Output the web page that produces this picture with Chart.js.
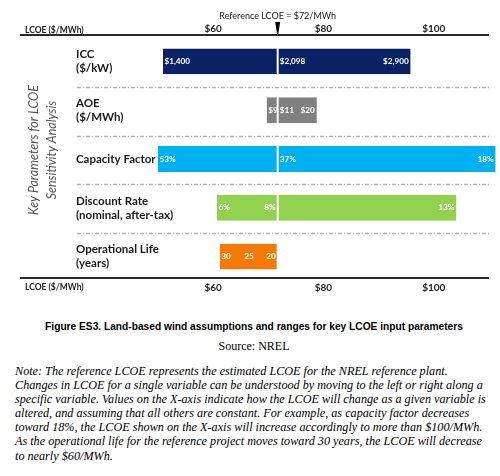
<!DOCTYPE html>
<html>
<head>
<meta charset="utf-8">
<script src="https://cdn.jsdelivr.net/npm/chart.js@4.4.1/dist/chart.umd.min.js"></script>
<style>
  body { margin: 0; background: #fff; width: 500px; height: 476px; overflow: hidden; }
  #wrap { position: relative; width: 500px; height: 300px; }
  .cap { position: absolute; left: 0; top: 321px; width: 508px; text-align: center;
         font: bold 10.2px "Liberation Sans", Arial, sans-serif; color: #000; }
  .src { position: absolute; left: 0; top: 339px; width: 508px; text-align: center;
         font: 12px "Liberation Serif", "Times New Roman", serif; color: #000; }
  .note { position: absolute; left: 15px; top: 364px; white-space: nowrap;
          font: italic 12.2px/14.1px "Liberation Serif", "Times New Roman", serif; color: #000; }
</style>
</head>
<body>
<div id="wrap"><canvas id="c"></canvas></div>
<div class="cap">Figure ES3. Land-based wind assumptions and ranges for key LCOE input parameters</div>
<div class="src">Source: NREL</div>
<div class="note">Note: The reference LCOE represents the estimated LCOE for the NREL reference plant.<br>Changes in LCOE for a single variable can be understood by moving to the left or right along a<br>specific variable. Values on the X-axis indicate how the LCOE will change as a given variable is<br>altered, and assuming that all others are constant. For example, as capacity factor decreases<br>toward 18%, the LCOE shown on the X-axis will increase accordingly to more than $100/MWh.<br>As the operational life for the reference project moves toward 30 years, the LCOE will decrease<br>to nearly $60/MWh.</div>

<script>
// key parameters (rows), LCOE range in $/MWh
const params = [['ICC', '($/kW)'], ['AOE', '($/MWh)'], ['Capacity Factor'], ['Discount Rate', '(nominal, after-tax)'], ['Operational Life', '(years)']];
const refLCOE = 71.7;
const lowLCOE = [50.9, 69.7, 50.0, 60.7, 61.2];
const highLCOE = [95.8, 78.8, 111.2, 104.1, null];
const barColors = ['#0a2163', '#808080', '#00b0f0', '#92d050', '#f47906'];
const tickValues = [60, 80, 100];

// parameter values written in the bars
const lowText = ['$1,400', '$9', '53%', '6%', '30'];
const refText = ['$2,098', '$11', '37%', '8%', '20'];
const refSide = ['right', 'right', 'right', 'left', 'left'];
const highText = ['$2,900', '$20', '18%', '13%', null];
const midText = [null, null, null, null, '25'];
const midLCOE = [null, null, null, null, 66.5];

const FONT = 'Lato, "Liberation Sans", sans-serif';

const overlay = {
    id: 'overlay',
    beforeDatasetsDraw(chart) {
        const ctx = chart.ctx;
        const y = chart.scales.y;
        const area = chart.chartArea;
        ctx.save();
        // separators between parameters
        ctx.strokeStyle = '#b4b4b4';
        ctx.lineWidth = 1.3;
        ctx.setLineDash([4, 2, 1, 2]);
        for (let i = 0; i < params.length - 1; i++) {
            const yy = Math.round((y.getPixelForValue(i) + y.getPixelForValue(i + 1)) / 2) + 1.5;
            ctx.beginPath();
            ctx.moveTo(77, yy);
            ctx.lineTo(area.right, yy);
            ctx.stroke();
        }
        // LCOE axis lines, top and bottom
        ctx.setLineDash([]);
        ctx.strokeStyle = '#2a2a2a';
        ctx.lineWidth = 2;
        [35, 278].forEach(ly => {
            ctx.beginPath();
            ctx.moveTo(area.left, ly);
            ctx.lineTo(area.right, ly);
            ctx.stroke();
        });
        ctx.restore();
    },
    afterDraw(chart) {
        const ctx = chart.ctx;
        const x = chart.scales.x;
        const y = chart.scales.y;
        const refX = x.getPixelForValue(refLCOE);
        ctx.save();

        // reference marker + caption
        ctx.fillStyle = '#1a1a1a';
        ctx.font = '9px ' + FONT;
        ctx.textAlign = 'center';
        ctx.textBaseline = 'middle';
        ctx.fillText('Reference LCOE = $72/MWh', refX, 16);
        ctx.fillStyle = '#000';
        ctx.beginPath();
        ctx.moveTo(refX - 2.5, 22);
        ctx.lineTo(refX + 2.5, 22);
        ctx.lineTo(refX + 0.6, 34);
        ctx.lineTo(refX - 0.6, 34);
        ctx.closePath();
        ctx.fill();

        // axis names
        ctx.fillStyle = '#222';
        ctx.font = 'bold 8.5px ' + FONT;
        ctx.textAlign = 'left';
        ctx.fillText('LCOE ($/MWh)', 25, 30);
        ctx.fillText('LCOE ($/MWh)', 25, 287);

        // rotated y title
        ctx.save();
        ctx.fillStyle = '#555';
        ctx.font = 'italic 12.5px ' + FONT;
        ctx.textAlign = 'center';
        ctx.textBaseline = 'middle';
        ctx.translate(34, 150);
        ctx.rotate(-Math.PI / 2);
        ctx.fillText('Key Parameters for LCOE', 0, 0);
        ctx.fillText('Sensitivity Analysis', 0, 18);
        ctx.restore();

        // row labels
        ctx.fillStyle = '#1a1a1a';
        ctx.font = 'bold 11.5px ' + FONT;
        ctx.textAlign = 'left';
        params.forEach((lines, i) => {
            const cy = y.getPixelForValue(i);
            lines.forEach((t, k) => {
                ctx.fillText(t, 76, cy + (k - (lines.length - 1) / 2) * 14);
            });
        });

        // values in bars
        ctx.fillStyle = '#fff';
        ctx.font = 'bold 8.2px ' + FONT;
        params.forEach((p, i) => {
            const cy = y.getPixelForValue(i);
            ctx.textAlign = 'left';
            ctx.fillText(lowText[i], x.getPixelForValue(lowLCOE[i]) + 1.5, cy);
            if (refSide[i] === 'right') {
                ctx.textAlign = 'left';
                ctx.fillText(refText[i], refX + 2, cy);
            } else {
                ctx.textAlign = 'right';
                ctx.fillText(refText[i], refX - 2, cy);
            }
            if (highText[i]) {
                ctx.textAlign = 'right';
                ctx.fillText(highText[i], Math.min(x.getPixelForValue(highLCOE[i]), chart.width) - 2, cy);
            }
            if (midText[i]) {
                ctx.textAlign = 'center';
                ctx.fillText(midText[i], x.getPixelForValue(midLCOE[i]), cy);
            }
        });
        ctx.restore();
    }
};

const xAxis = (pos, h, pad) => ({
    type: 'linear',
    position: pos,
    min: 25,
    max: 110,
    afterBuildTicks: s => { s.ticks = tickValues.map(v => ({ value: v })); },
    afterFit: s => { s.height = h; },
    grid: { display: false, drawTicks: false },
    border: { display: false },
    ticks: {
        padding: pad,
        color: '#222',
        font: { family: FONT, size: 10, weight: 'bold' },
        callback: v => '$' + v
    }
});

new Chart(document.getElementById('c'), {
    type: 'bar',
    data: {
        labels: params.map(p => p.join(' ')),
        datasets: [
            {
                data: lowLCOE.map(v => [v, refLCOE]),
                backgroundColor: barColors,
                borderColor: '#fff',
                borderWidth: { left: 0, right: 1, top: 0, bottom: 0 },
                borderSkipped: false,
                grouped: false,
                clip: false
            },
            {
                data: highLCOE.map(v => v == null ? null : [refLCOE, v]),
                backgroundColor: barColors,
                borderColor: '#fff',
                borderWidth: { left: 1, right: 0, top: 0, bottom: 0 },
                borderSkipped: false,
                grouped: false,
                clip: false
            }
        ]
    },
    options: {
        indexAxis: 'y',
        responsive: true,
        maintainAspectRatio: false,
        animation: false,
        layout: { padding: { left: 20, right: 11, top: 0, bottom: 0 } },
        datasets: { bar: { categoryPercentage: 1, barPercentage: 0.53 } },
        scales: {
            x: xAxis('top', 37, 2),
            x2: xAxis('bottom', 19, 1),
            y: { type: 'category', display: false, offset: true }
        },
        plugins: { legend: { display: false }, tooltip: { enabled: false } }
    },
    plugins: [overlay]
});
</script>
</body>
</html>
